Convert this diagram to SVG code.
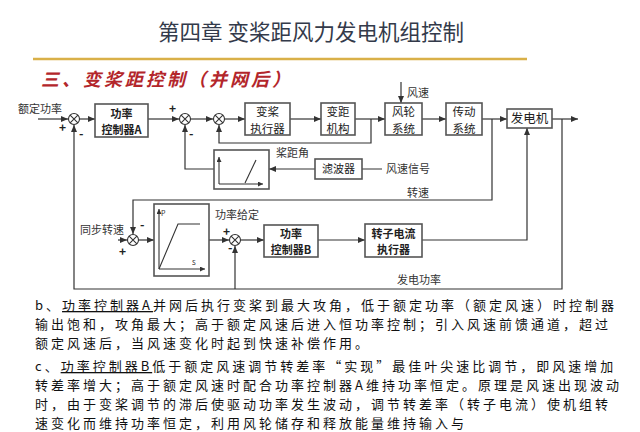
<svg xmlns="http://www.w3.org/2000/svg" width="640" height="432" viewBox="0 0 640 432">
<defs>
<marker id="ah" markerUnits="userSpaceOnUse" markerWidth="8" markerHeight="6" refX="7" refY="3" orient="auto"><path d="M0,0 L7,3 L0,6 Z" fill="#333"/></marker>
<marker id="sa" markerUnits="userSpaceOnUse" markerWidth="6" markerHeight="5" refX="5" refY="2.5" orient="auto"><path d="M0,0 L5,2.5 L0,5 Z" fill="#333"/></marker>
</defs>
<style>
text{font-family:"Noto Sans CJK SC","Liberation Sans",sans-serif;fill:#222}
.box{fill:#fff;stroke:#555;stroke-width:1.6}
.c{fill:none;stroke:#333;stroke-width:1.2}
.w{fill:none;stroke:#333;stroke-width:1.1}
.lbl{font-size:11px;fill:#333}
.bl{font-size:11px;font-weight:bold;text-anchor:middle;fill:#222}
.rl{font-size:11.5px;text-anchor:middle;fill:#222}
.sg{font-size:12px;font-weight:bold;fill:#222}
.body{font-size:13px;letter-spacing:3px;fill:#111}
.u{text-decoration:underline}
</style>
<rect width="640" height="432" fill="#fff"/>
<text x="311" y="40" font-size="21.5" text-anchor="middle" style="fill:#333a4a">第四章  变桨距风力发电机组控制</text>
<line x1="33" y1="59" x2="527" y2="59" stroke="#d9b048" stroke-width="2.5"/>
<text x="41" y="86" font-size="18" font-weight="bold" letter-spacing="3" style="fill:#b3262b;font-style:italic">三、变桨距控制（并网后）</text>

<g id="connectors">
<path class="c" d="M38,119 H68" marker-end="url(#ah)"/>
<path class="c" d="M79.5,119 H95" marker-end="url(#ah)"/>
<path class="c" d="M148,119 H179" marker-end="url(#ah)"/>
<path class="c" d="M190.5,119 H213" marker-end="url(#ah)"/>
<path class="c" d="M224.5,119 H245" marker-end="url(#ah)"/>
<path class="c" d="M290,119 H321" marker-end="url(#ah)"/>
<path class="c" d="M355,119 H385" marker-end="url(#ah)"/>
<path class="c" d="M371,119 V143 H219 V125" marker-end="url(#ah)"/>
<path class="c" d="M401,82 V103" marker-end="url(#ah)"/>
<path class="c" d="M422,119 H446" marker-end="url(#ah)"/>
<path class="c" d="M482,119 H507" marker-end="url(#ah)"/>
<path class="c" d="M552,119 H578" marker-end="url(#ah)"/>
<path class="c" d="M492,119 V200 H133 V234" marker-end="url(#ah)"/>
<path class="c" d="M562,119 V289 H74 V125" marker-end="url(#ah)"/>
<path class="c" d="M235,289 V246" marker-end="url(#ah)"/>
<path class="c" d="M382,169 H269" marker-end="url(#ah)"/>
<path class="c" d="M214,169 H185 V125" marker-end="url(#ah)"/>
<path class="c" d="M118,240 H127" marker-end="url(#ah)"/>
<path class="c" d="M138.5,240 H154" marker-end="url(#ah)"/>
<path class="c" d="M209,240 H229" marker-end="url(#ah)"/>
<path class="c" d="M240.5,240 H264" marker-end="url(#ah)"/>
<path class="c" d="M318,240 H365" marker-end="url(#ah)"/>
<path class="c" d="M422,240 H527 V128" marker-end="url(#ah)"/>
</g>

<g id="sum1"><circle cx="74" cy="119" r="5.5" class="w" fill="#fff"/><path class="w" d="M70.1,115.1 L77.9,122.9 M77.9,115.1 L70.1,122.9"/></g>
<g id="sum2"><circle cx="185" cy="119" r="5.5" class="w" fill="#fff"/><path class="w" d="M181.1,115.1 L188.9,122.9 M188.9,115.1 L181.1,122.9"/></g>
<g id="sum3"><circle cx="219" cy="119" r="5.5" class="w" fill="#fff"/><path class="w" d="M215.1,115.1 L222.9,122.9 M222.9,115.1 L215.1,122.9"/></g>
<g id="sum4"><circle cx="133" cy="240" r="5.5" class="w" fill="#fff"/><path class="w" d="M129.1,236.1 L136.9,243.9 M136.9,236.1 L129.1,243.9"/></g>
<g id="sumB"><circle cx="235" cy="240" r="5.5" class="w" fill="#fff"/><path class="w" d="M231.1,236.1 L238.9,243.9 M238.9,236.1 L231.1,243.9"/></g>

<g id="ctrlA"><rect class="box" x="95" y="104" width="53" height="33"/><text class="bl" x="121.5" y="117.5">功率</text><text class="bl" x="121.5" y="133.5">控制器A</text></g>
<g id="pitchAct"><rect class="box" x="245" y="103" width="45" height="32"/><text class="rl" x="267.5" y="116">变桨</text><text class="rl" x="267.5" y="132.7">执行器</text></g>
<g id="pitchMech"><rect class="box" x="321" y="103" width="34" height="32"/><text class="rl" x="338" y="116">变距</text><text class="rl" x="338" y="132.7">机构</text></g>
<g id="rotor"><rect class="box" x="385" y="103" width="37" height="32"/><text class="rl" x="403.5" y="116">风轮</text><text class="rl" x="403.5" y="132.7">系统</text></g>
<g id="drive"><rect class="box" x="446" y="103" width="36" height="32"/><text class="rl" x="464" y="116">传动</text><text class="rl" x="464" y="132.7">系统</text></g>
<g id="generator"><rect class="box" x="507" y="109" width="45" height="19"/><text class="rl" x="529.5" y="123" style="font-size:12.5px">发电机</text></g>
<g id="filter"><rect class="box" x="315" y="159" width="47" height="20"/><text class="rl" x="338.5" y="173" style="font-size:11px">滤波器</text></g>
<g id="fblock1"><rect class="box" x="214" y="150" width="55" height="39"/>
<path class="w" d="M219,184 V157" marker-end="url(#sa)"/><path class="w" d="M219,184 H263" marker-end="url(#sa)"/><path class="w" d="M245,183 L256,160"/></g>
<g id="fblock2"><rect class="box" x="154" y="204" width="55" height="72"/>
<path class="w" d="M159,269 V209" marker-end="url(#sa)"/><path class="w" d="M159,269 H205" marker-end="url(#sa)"/><path class="w" d="M159,269 L178,224 H200"/>
<text x="161" y="216" font-size="7" style="fill:#333">P</text><text x="192" y="265" font-size="8" style="fill:#333">s</text></g>
<g id="ctrlB"><rect class="box" x="264" y="225" width="54" height="32"/><text class="bl" x="291" y="238">功率</text><text class="bl" x="291" y="254">控制器B</text></g>
<g id="rotorCur"><rect class="box" x="365" y="224" width="57" height="33"/><text class="bl" x="393.5" y="237.5">转子电流</text><text class="bl" x="393.5" y="253.5">执行器</text></g>

<g id="labels">
<text class="lbl" x="18" y="113">额定功率</text>
<text class="sg" x="59" y="132">+</text><text class="sg" x="79" y="138">-</text>
<text class="sg" x="169" y="113">+</text><text class="sg" x="189" y="138">-</text>
<text class="lbl" x="276" y="157">桨距角</text>
<text class="lbl" x="407" y="97">风速</text>
<text class="lbl" x="386" y="173">风速信号</text>
<text class="lbl" x="407" y="197">转速</text>
<text class="lbl" x="80" y="234">同步转速</text>
<text class="sg" x="119" y="256">+</text><text class="sg" x="140" y="229">-</text>
<text class="lbl" x="215" y="219">功率给定</text>
<text class="sg" x="223" y="236">+</text><text class="sg" x="228" y="252">-</text>
<text class="lbl" x="397" y="284">发电功率</text>
</g>

<g id="bodytext">
<text class="body" x="35" y="310">b、<tspan class="u">功率控制器A</tspan>并网后执行变桨到最大攻角，低于额定功率（额定风速）时控制器</text>
<text class="body" x="35" y="329">输出饱和，攻角最大；高于额定风速后进入恒功率控制；引入风速前馈通道，超过</text>
<text class="body" x="35" y="348">额定风速后，当风速变化时起到快速补偿作用。</text>
<text class="body" x="35" y="371">c、<tspan class="u">功率控制器B</tspan>低于额定风速调节转差率“实现”最佳叶尖速比调节，即风速增加</text>
<text class="body" x="35" y="390">转差率增大；高于额定风速时配合功率控制器A维持功率恒定。原理是风速出现波动</text>
<text class="body" x="35" y="409">时，由于变桨调节的滞后使驱动功率发生波动，调节转差率（转子电流）使机组转</text>
<text class="body" x="35" y="428">速变化而维持功率恒定，利用风轮储存和释放能量维持输入与</text>
</g>
</svg>
